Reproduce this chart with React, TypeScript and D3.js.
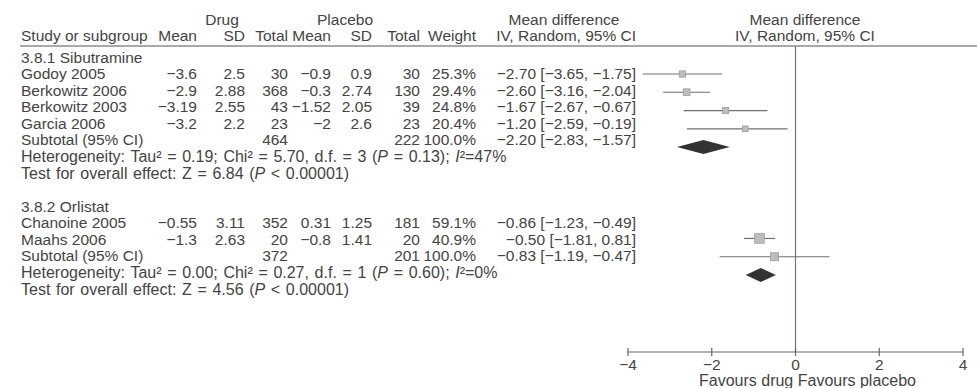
import React from 'react';
import * as d3 from 'd3';

// studies (both subgroups, flat) 
const studies = ["Godoy 2005", "Berkowitz 2006", "Berkowitz 2003", "Garcia 2006", "Chanoine 2005", "Maahs 2006"];
const studyGroup = [0, 0, 0, 0, 1, 1];
const drugMean = [-3.6, -2.9, -3.19, -3.2, -0.55, -1.3];
const drugSD = [2.5, 2.88, 2.55, 2.2, 3.11, 2.63];
const drugTotal = [30, 368, 43, 23, 352, 20];
const placeboMean = [-0.9, -0.3, -1.52, -2, 0.31, -0.8];
const placeboSD = [0.9, 2.74, 2.05, 2.6, 1.25, 1.41];
const placeboTotal = [30, 130, 39, 23, 181, 20];
const weight = [25.3, 29.4, 24.8, 20.4, 59.1, 40.9];
const meanDiff = [-2.7, -2.6, -1.67, -1.2, -0.86, -0.5];
const ciLow = [-3.65, -3.16, -2.67, -2.59, -1.23, -1.81];
const ciHigh = [-1.75, -2.04, -0.67, -0.19, -0.49, 0.81];

// subgroup totals
const subgroups = ["3.8.1 Sibutramine", "3.8.2 Orlistat"];
const subDrugTotal = [464, 372];
const subPlaceboTotal = [222, 201];
const subMeanDiff = [-2.2, -0.83];
const subCiLow = [-2.83, -1.19];
const subCiHigh = [-1.57, -0.47];
const tau2 = ["0.19", "0.00"];
const chi2 = ["5.70", "0.27"];
const df = [3, 1];
const hetP = ["0.13", "0.60"];
const iSquared = ["47", "0"];
const zValue = ["6.84", "4.56"];
const effectP = ["< 0.00001", "< 0.00001"];

const axisTicks = [-4, -2, 0, 2, 4];

const W = 977, H = 388;
const FONT = '"Liberation Sans", Arial, sans-serif';
const INK = '#444';

const num = (v: number) => String(v).replace('-', '\u2212');
const f2 = d3.format('.2f');
const f1 = d3.format('.1f');
const ciText = (m: number, lo: number, hi: number) => `${f2(m)} [${f2(lo)}, ${f2(hi)}]`;

// column right edges
const col = {
  name: 21, dMean: 197, dSD: 245, dTot: 288, pMean: 331, pSD: 372, pTot: 420, wt: 476, ci: 636,
};

export default function App() {
  const x = d3.scaleLinear().domain([-4, 4]).range([628, 963]);
  const yText = d3.scaleLinear().domain([0, 14]).range([57, 289]);
  const yPlot = d3.scaleLinear().domain([1, 12]).range([74, 275]);
  const boxSize = d3.scaleSqrt().domain([0, 100]).range([0, 12.5]);
  const axisY = 352;
  const lineY = 46;

  // build row list
  type Row = { kind: string; idx: number; g: number };
  const rows: Row[] = [];
  subgroups.forEach((_, g) => {
    rows.push({ kind: 'group', idx: -1, g });
    studies.forEach((_, i) => { if (studyGroup[i] === g) rows.push({ kind: 'study', idx: i, g }); });
    rows.push({ kind: 'subtotal', idx: -1, g });
    rows.push({ kind: 'het', idx: -1, g });
    rows.push({ kind: 'test', idx: -1, g });
    rows.push({ kind: 'blank', idx: -1, g });
  });

  const cell = (xx: number, y: number, t: string | number, anchor = 'end') => (
    <text x={xx} y={y} textAnchor={anchor} dominantBaseline="central">{t}</text>
  );

  return (
    <svg width={W} height={H} style={{ position: 'absolute', left: 0, top: 0, background: '#fff' }}
      fontFamily={FONT} fontSize={15.5} fill={INK}>
      {/* headers */}
      <text x={222} y={19} textAnchor="middle" dominantBaseline="central">Drug</text>
      <text x={345} y={19} textAnchor="middle" dominantBaseline="central">Placebo</text>
      <text x={564} y={19} textAnchor="middle" dominantBaseline="central">Mean difference</text>
      <text x={805} y={19} textAnchor="middle" dominantBaseline="central">Mean difference</text>
      {cell(col.name, 35, 'Study or subgroup', 'start')}
      {cell(col.dMean, 35, 'Mean')}
      {cell(col.dSD, 35, 'SD')}
      {cell(col.dTot, 35, 'Total')}
      {cell(col.pMean, 35, 'Mean')}
      {cell(col.pSD, 35, 'SD')}
      {cell(col.pTot, 35, 'Total')}
      {cell(col.wt, 35, 'Weight')}
      {cell(col.ci, 35, 'IV, Random, 95% CI')}
      <text x={805} y={35} textAnchor="middle" dominantBaseline="central">IV, Random, 95% CI</text>
      <line x1={20} x2={W} y1={lineY} y2={lineY} stroke="#555" strokeWidth={1.2} />

      {/* zero line */}
      <line x1={x(0)} x2={x(0)} y1={lineY} y2={axisY} stroke="#6e7488" strokeWidth={1.2} />

      {rows.map((r, k) => {
        const y = yText(k);
        const yp = yPlot(k);
        const g = r.g;
        if (r.kind === 'group') return <g key={k}>{cell(col.name, y, subgroups[g], 'start')}</g>;
        if (r.kind === 'study') {
          const i = r.idx;
          const s = boxSize(weight[i]);
          return (
            <g key={k}>
              {cell(col.name, y, studies[i], 'start')}
              {cell(col.dMean, y, num(drugMean[i]))}
              {cell(col.dSD, y, num(drugSD[i]))}
              {cell(col.dTot, y, drugTotal[i])}
              {cell(col.pMean, y, num(placeboMean[i]))}
              {cell(col.pSD, y, num(placeboSD[i]))}
              {cell(col.pTot, y, placeboTotal[i])}
              {cell(col.wt, y, f1(weight[i]) + '%')}
              {cell(col.ci, y, ciText(meanDiff[i], ciLow[i], ciHigh[i]))}
              <line x1={x(ciLow[i])} x2={x(ciHigh[i])} y1={yp} y2={yp} stroke="#707070" strokeWidth={1.2} />
              <rect x={x(meanDiff[i]) - s / 2} y={yp - s / 2} width={s} height={s}
                fill="#bdbdbd" stroke="#9c9c9c" strokeWidth={0.8} />
            </g>
          );
        }
        if (r.kind === 'subtotal') {
          const pts = [
            [x(subCiLow[g]), yp], [x(subMeanDiff[g]), yp - 7],
            [x(subCiHigh[g]), yp], [x(subMeanDiff[g]), yp + 7],
          ].map(p => p.join(',')).join(' ');
          return (
            <g key={k}>
              {cell(col.name, y, 'Subtotal (95% CI)', 'start')}
              {cell(col.dTot, y, subDrugTotal[g])}
              {cell(col.pTot, y, subPlaceboTotal[g])}
              {cell(col.wt, y, '100.0%')}
              {cell(col.ci, y, ciText(subMeanDiff[g], subCiLow[g], subCiHigh[g]))}
              <polygon points={pts} fill="#333" />
            </g>
          );
        }
        if (r.kind === 'het') return (
          <text key={k} x={col.name} y={y} dominantBaseline="central" fontSize={16} wordSpacing={1.2}>
            {`Heterogeneity: Tau\u00B2 = ${tau2[g]}; Chi\u00B2 = ${chi2[g]}, d.f. = ${df[g]} (`}
            <tspan fontStyle="italic">P</tspan>{` = ${hetP[g]}); `}
            <tspan fontStyle="italic">I</tspan>{`\u00B2=${iSquared[g]}%`}
          </text>
        );
        if (r.kind === 'test') return (
          <text key={k} x={col.name} y={y} dominantBaseline="central" fontSize={16} wordSpacing={1.2}>
            {`Test for overall effect: Z = ${zValue[g]} (`}
            <tspan fontStyle="italic">P</tspan>{` ${effectP[g]})`}
          </text>
        );
        return null;
      })}

      {/* axis */}
      <line x1={x(-4)} x2={x(4)} y1={axisY} y2={axisY} stroke="#666" strokeWidth={1.2} />
      {axisTicks.map(t => (
        <g key={t}>
          <line x1={x(t)} x2={x(t)} y1={axisY - 4} y2={axisY + 4} stroke="#666" strokeWidth={1.2} />
          <text x={x(t)} y={axisY + 12} textAnchor="middle" dominantBaseline="central">{num(t)}</text>
        </g>
      ))}
      <text x={x(0) + 12} y={380} textAnchor="middle" dominantBaseline="central" fontSize={16}>
        Favours drug Favours placebo
      </text>
    </svg>
  );
}
